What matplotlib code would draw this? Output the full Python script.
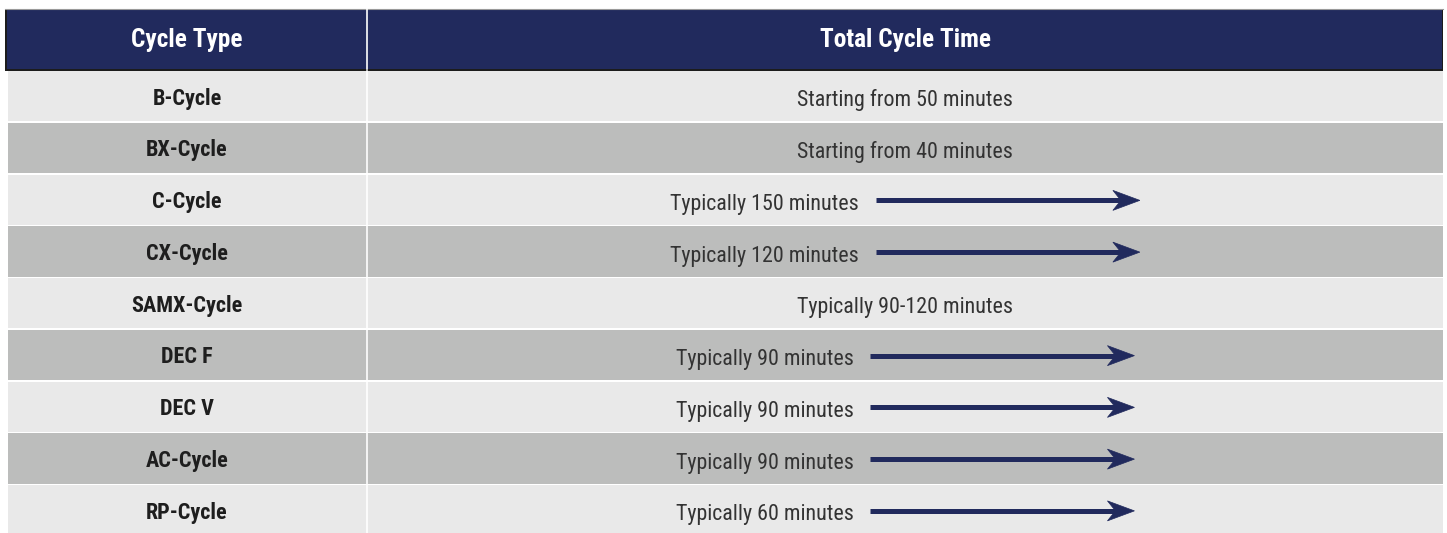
import matplotlib
matplotlib.use('Agg')
import matplotlib.pyplot as plt
from matplotlib.patches import Rectangle, Polygon

# table content
cycle_types = ['B-Cycle', 'BX-Cycle', 'C-Cycle', 'CX-Cycle', 'SAMX-Cycle',
               'DEC F', 'DEC V', 'AC-Cycle', 'RP-Cycle']
cycle_times = ['Starting from 50 minutes', 'Starting from 40 minutes',
               'Typically 150 minutes', 'Typically 120 minutes',
               'Typically 90-120 minutes', 'Typically 90 minutes',
               'Typically 90 minutes', 'Typically 90 minutes',
               'Typically 60 minutes']
has_arrow = [False, False, True, True, False, True, True, True, True]
headers = ['Cycle Type', 'Total Cycle Time']

plt.rcParams['font.family'] = ['Roboto Condensed', 'IBM Plex Sans Condensed', 'DejaVu Sans']

navy = '#212a5d'
light = '#e9e9e9'
dark = '#bcbdbc'

W, H = 1447, 533
fig = plt.figure(figsize=(W / 100, H / 100), dpi=100)
ax = fig.add_axes([0, 0, 1, 1])
ax.set_xlim(0, W)
ax.set_ylim(H, 0)
ax.axis('off')

left, right, split = 7, 1443, 367
head_top, head_bot = 9, 69
row_top, row_h = 71, 51.75

# header
ax.add_patch(Rectangle((left - 2, head_top), right - left + 2, head_bot - head_top + 2,
                       facecolor='#1c1c1c', edgecolor='none'))
ax.add_patch(Rectangle((left, head_top), right - left - 1, head_bot - head_top,
                       facecolor=navy, edgecolor='none'))
ax.plot([left - 2, right], [head_top - 0.5, head_top - 0.5], color='#9a9a9a', lw=0.8)
ax.plot([split, split], [head_top, head_bot], color='white', lw=1.2)
hy = (head_top + head_bot) / 2 + 8
ax.text((left + split) / 2, hy, headers[0], color='white',
        fontsize=18.3, fontweight='bold', ha='center', va='baseline')
ax.text((split + right) / 2, hy, headers[1], color='white',
        fontsize=18.3, fontweight='bold', ha='center', va='baseline')

# body rows
right_center = (split + right) / 2
arrow_len, gap = 264, 17
renderer = fig.canvas.get_renderer()
for i, (name, t, arr) in enumerate(zip(cycle_types, cycle_times, has_arrow)):
    y0 = row_top + i * row_h
    yc = y0 + row_h / 2
    ax.add_patch(Rectangle((left + 1, y0), right - left - 1, row_h - 1.3,
                           facecolor=light if i % 2 == 0 else dark, edgecolor='none'))
    ax.text((left + split) / 2, yc + 7.7, name, color='#1e1e1e', fontsize=15.9,
            fontweight='bold', ha='center', va='baseline')
    if not arr:
        ax.text(right_center, yc + 9.5, t, color='#333333', fontsize=15.8,
                ha='center', va='baseline')
        continue
    txt = ax.text(0, yc + 9.5, t, color='#333333', fontsize=15.8, ha='left', va='baseline')
    tw = txt.get_window_extent(renderer).width
    x0 = right_center - (tw + gap + arrow_len) / 2
    txt.set_x(x0)
    a0 = x0 + tw + gap
    a1 = a0 + arrow_len
    ax.plot([a0, a1 - 18], [yc, yc], color=navy, lw=3.6, solid_capstyle='butt')
    ax.add_patch(Polygon([(a1, yc), (a1 - 27, yc - 10), (a1 - 19, yc), (a1 - 27, yc + 10)],
                         closed=True, facecolor=navy, edgecolor=navy, lw=0.5))

# vertical divider
ax.plot([split, split], [row_top, H], color='white', lw=1.2)

fig.savefig('out.png', dpi=100)
